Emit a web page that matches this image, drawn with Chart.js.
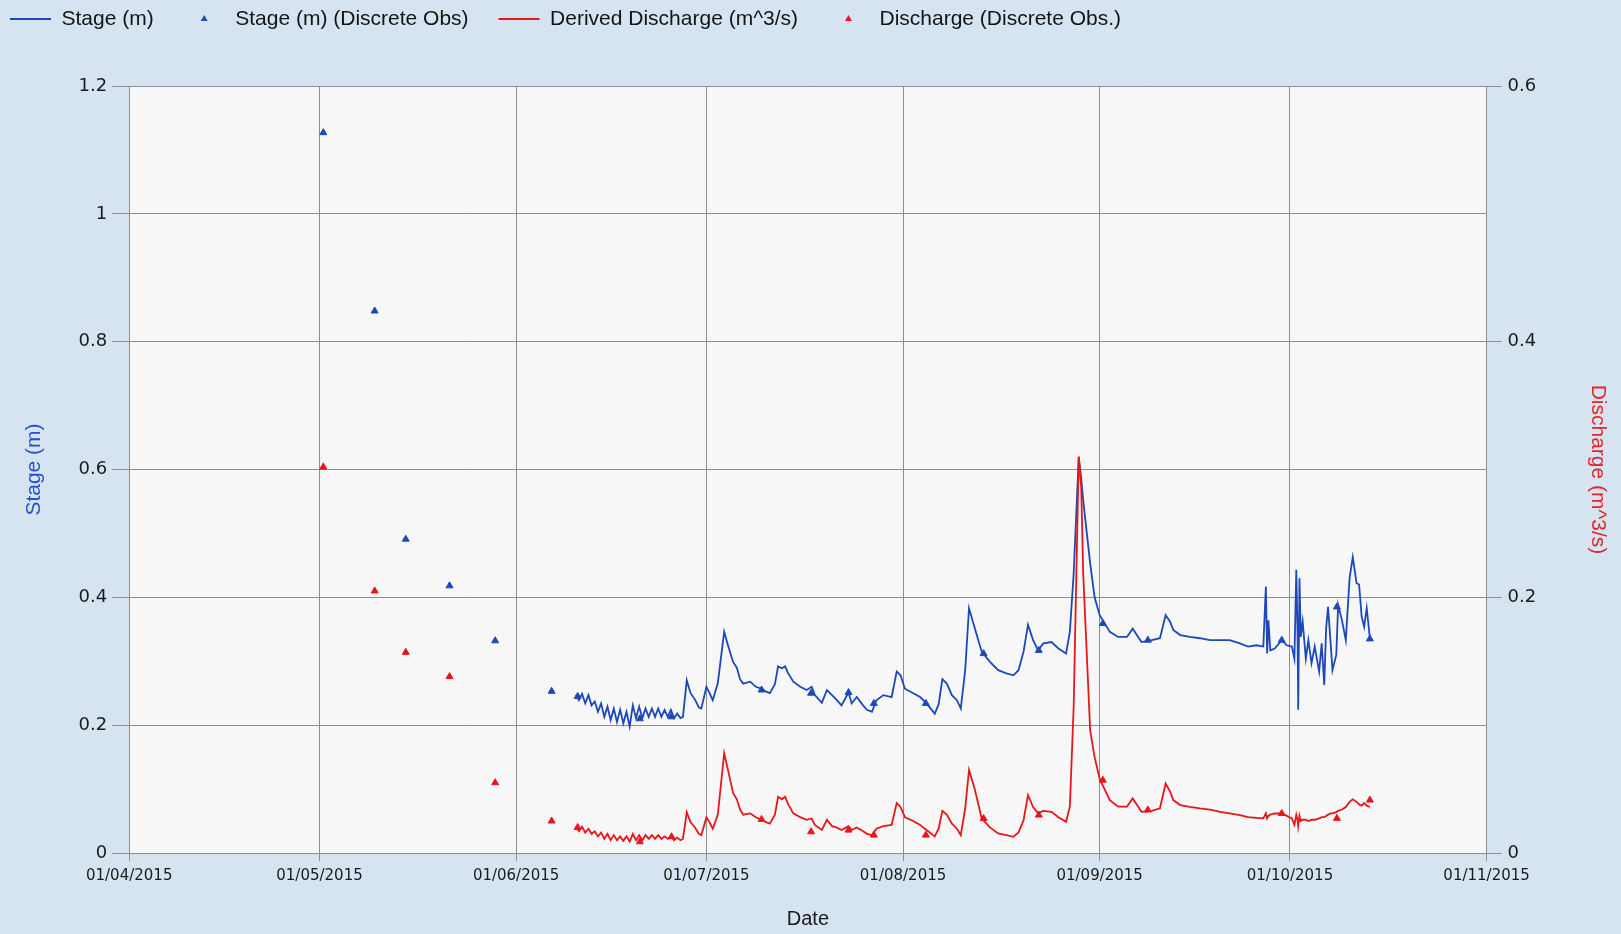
<!DOCTYPE html>
<html>
<head>
<meta charset="utf-8">
<title>Stage and discharge</title>
<script src="https://cdn.jsdelivr.net/npm/chart.js@4.4.1/dist/chart.umd.min.js"></script>
<style>
  html, body { margin: 0; padding: 0; background: #d6e4f1; }
  #wrap { width: 1621px; height: 934px; }
</style>
</head>
<body>
<div id="wrap"><canvas id="stageChart" width="1621" height="934"></canvas></div>
<script>
// x values are days counted from 01/04/2015
const monthTicks = [0, 30, 61, 91, 122, 153, 183, 214];
const monthLabels = ["01/04/2015", "01/05/2015", "01/06/2015", "01/07/2015",
                     "01/08/2015", "01/09/2015", "01/10/2015", "01/11/2015"];

// logger record
const lineDays = [
  70.4, 70.9, 71.4, 71.9, 72.4, 72.9, 73.4, 73.9, 74.4, 74.9, 75.4, 75.9, 76.4, 76.9, 77.4, 77.9,
  78.4, 78.9, 79.4, 79.9, 80.4, 80.9, 81.4, 81.9, 82.4, 82.9, 83.4, 83.9, 84.4, 84.9, 85.4, 85.9,
  86.4, 86.9, 87.3, 87.9, 88.5, 89.2, 89.8, 90.2, 91.0, 91.5, 92.0, 92.8, 93.8, 94.4, 95.2, 95.8,
  96.3, 96.8, 97.9, 98.8, 99.7, 100.5, 101.0, 101.8, 102.3, 102.9, 103.4, 103.9, 104.7, 105.8, 106.8, 107.6,
  108.1, 109.2, 110.0, 110.8, 111.5, 112.3, 113.4, 113.9, 114.7, 115.7, 116.3, 117.1, 117.8, 118.9, 120.2, 121.0,
  121.6, 122.3, 123.6, 124.7, 125.7, 127.0, 127.6, 128.2, 128.9, 129.7, 130.5, 131.1, 131.8, 132.4, 133.3, 134.4,
  135.7, 137.0, 138.3, 139.4, 140.2, 141.0, 141.7, 142.5, 143.3, 144.1, 145.4, 146.5, 147.7, 148.3, 148.9, 149.7,
  150.1, 150.4, 151.5, 152.2, 153.0, 154.6, 155.9, 157.3, 158.2, 159.6, 161.2, 162.5, 163.4, 164.1, 164.6, 165.7, 167.2, 168.8,
  170.4, 172.0, 173.5, 175.1, 176.4, 177.7, 178.8, 179.2, 179.4, 179.6, 179.9, 180.6, 181.7, 182.5, 183.3, 183.7,
  184.0, 184.2, 184.3, 184.5, 184.7, 185.0, 185.5, 185.9, 186.4, 186.9, 187.6, 188.0, 188.4, 188.7, 189.0, 189.4,
  189.7, 190.3, 190.6, 191.2, 191.8, 192.4, 192.9, 193.5, 193.9, 194.3, 194.7, 195.1, 195.6
];
const stageLine = [
  0.247, 0.239, 0.249, 0.234, 0.247, 0.231, 0.237, 0.221, 0.234, 0.213, 0.229, 0.208, 0.226, 0.205, 0.224, 0.203,
  0.221, 0.198, 0.231, 0.211, 0.229, 0.211, 0.226, 0.213, 0.226, 0.213, 0.226, 0.213, 0.224, 0.213, 0.224, 0.211,
  0.218, 0.211, 0.213, 0.270, 0.250, 0.240, 0.228, 0.226, 0.260, 0.250, 0.239, 0.266, 0.346, 0.325, 0.299, 0.290,
  0.272, 0.265, 0.268, 0.260, 0.257, 0.252, 0.250, 0.264, 0.292, 0.289, 0.292, 0.281, 0.268, 0.260, 0.255, 0.260,
  0.247, 0.235, 0.255, 0.247, 0.240, 0.231, 0.251, 0.234, 0.244, 0.231, 0.224, 0.221, 0.239, 0.247, 0.244, 0.284,
  0.278, 0.257, 0.250, 0.244, 0.234, 0.218, 0.232, 0.272, 0.265, 0.247, 0.239, 0.226, 0.286, 0.383, 0.352, 0.315,
  0.299, 0.286, 0.281, 0.278, 0.286, 0.315, 0.357, 0.333, 0.317, 0.328, 0.330, 0.320, 0.312, 0.346, 0.437, 0.620,
  0.585, 0.552, 0.453, 0.400, 0.372, 0.346, 0.338, 0.338, 0.351, 0.330, 0.333, 0.336, 0.372, 0.362, 0.349, 0.341, 0.338, 0.336,
  0.333, 0.333, 0.333, 0.328, 0.323, 0.325, 0.323, 0.417, 0.312, 0.364, 0.317, 0.320, 0.333, 0.325, 0.323, 0.304,
  0.443, 0.340, 0.224, 0.430, 0.338, 0.362, 0.304, 0.333, 0.297, 0.323, 0.284, 0.328, 0.263, 0.351, 0.385, 0.330,
  0.286, 0.310, 0.388, 0.364, 0.333, 0.430, 0.463, 0.422, 0.420, 0.370, 0.354, 0.383, 0.336
];
const dischargeLine = [
  0.0205, 0.017, 0.0205, 0.016, 0.019, 0.015, 0.017, 0.013, 0.016, 0.011, 0.015, 0.010, 0.014, 0.010, 0.013, 0.0095,
  0.013, 0.009, 0.015, 0.010, 0.014, 0.010, 0.014, 0.011, 0.014, 0.011, 0.014, 0.011, 0.013, 0.011, 0.013, 0.010,
  0.012, 0.010, 0.011, 0.032, 0.024, 0.020, 0.015, 0.014, 0.028, 0.024, 0.019, 0.030, 0.078, 0.065, 0.047, 0.042,
  0.034, 0.030, 0.031, 0.028, 0.026, 0.024, 0.023, 0.030, 0.044, 0.042, 0.044, 0.038, 0.031, 0.028, 0.026, 0.027,
  0.022, 0.018, 0.026, 0.021, 0.020, 0.018, 0.021, 0.018, 0.020, 0.017, 0.015, 0.014, 0.019, 0.021, 0.022, 0.039,
  0.036, 0.028, 0.025, 0.022, 0.018, 0.013, 0.019, 0.033, 0.030, 0.023, 0.019, 0.014, 0.035, 0.065, 0.050, 0.027,
  0.020, 0.0153, 0.014, 0.0127, 0.016, 0.0257, 0.0453, 0.036, 0.031, 0.033, 0.0322, 0.028, 0.0244, 0.0362, 0.1144, 0.310,
  0.285, 0.219, 0.096, 0.075, 0.058, 0.0414, 0.0362, 0.0362, 0.0427, 0.0322, 0.033, 0.035, 0.0544, 0.048, 0.0414, 0.0375, 0.036, 0.0349,
  0.034, 0.0322, 0.031, 0.0296, 0.028, 0.0275, 0.0271, 0.031, 0.027, 0.029, 0.030, 0.031, 0.0309, 0.029, 0.027, 0.022,
  0.030, 0.026, 0.021, 0.029, 0.025, 0.026, 0.026, 0.025, 0.026, 0.026, 0.027, 0.028, 0.028, 0.029, 0.030, 0.031,
  0.031, 0.032, 0.033, 0.034, 0.036, 0.040, 0.042, 0.040, 0.038, 0.037, 0.039, 0.037, 0.036
];

// discrete field observations
const obsDays = [30.6, 38.7, 43.6, 50.5, 57.7, 66.6, 70.7, 80.5, 85.5, 99.7, 107.5,
                 113.4, 117.4, 125.6, 134.7, 143.4, 153.5, 160.6, 181.7, 190.4, 195.6];
const obsStage = [1.127, 0.848, 0.491, 0.418, 0.332, 0.253, 0.245, 0.210, 0.213, 0.255, 0.250,
                  0.251, 0.234, 0.234, 0.312, 0.317, 0.359, 0.333, 0.333, 0.385, 0.335];
const obsDischarge = [0.302, 0.205, 0.157, 0.138, 0.055, 0.025, 0.020, 0.0088, 0.0127, 0.0263, 0.0166,
                      0.0179, 0.014, 0.014, 0.027, 0.0297, 0.057, 0.0336, 0.0309, 0.0271, 0.0414];

const BLUE = "#1c48b8";
const RED = "#e8161c";
const GRID = "#8e8e8e";
const TITLE_FONT = "'Liberation Sans', Arial, sans-serif";

function pairs(xs, ys) {
  return xs.map((x, i) => ({ x: x, y: ys[i] }));
}

// light panel behind the plot area
const panelBackground = {
  id: "panelBackground",
  beforeDraw(chart) {
    const { ctx, chartArea } = chart;
    ctx.save();
    ctx.fillStyle = "#d6e4f1";
    ctx.fillRect(0, 0, chart.width, chart.height);
    ctx.fillStyle = "#f7f7f7";
    ctx.fillRect(chartArea.left, chartArea.top, chartArea.right - chartArea.left, chartArea.bottom - chartArea.top);
    ctx.restore();
  }
};

// left aligned legend strip along the top edge
const topLegend = {
  id: "topLegend",
  afterDraw(chart) {
    const ctx = chart.ctx;
    ctx.save();
    ctx.font = "21px " + TITLE_FONT;
    ctx.textBaseline = "middle";
    let x = 10;
    const y = 19;
    chart.data.datasets.forEach(ds => {
      ctx.fillStyle = ds.borderColor;
      ctx.strokeStyle = ds.borderColor;
      if (ds.showLine === false) {
        const cx = x + 20.5;
        ctx.beginPath();
        ctx.moveTo(cx, y - 4);
        ctx.lineTo(cx + 3.5, y + 2);
        ctx.lineTo(cx - 3.5, y + 2);
        ctx.closePath();
        ctx.fill();
      } else {
        ctx.lineWidth = 2;
        ctx.beginPath();
        ctx.moveTo(x, y);
        ctx.lineTo(x + 41, y);
        ctx.stroke();
      }
      ctx.fillStyle = "#141414";
      ctx.fillText(ds.label, x + 51.5, y);
      x += 51.5 + ctx.measureText(ds.label).width + 30;
    });
    ctx.restore();
  }
};

Chart.defaults.font.family = "'DejaVu Sans', Verdana, sans-serif";
Chart.defaults.color = "#1a1a1a";

new Chart(document.getElementById("stageChart"), {
  type: "line",
  data: {
    datasets: [
      {
        label: "Stage (m)",
        data: pairs(lineDays, stageLine),
        yAxisID: "y",
        borderColor: BLUE,
        backgroundColor: BLUE,
        borderWidth: 1.8,
        pointRadius: 0,
        tension: 0,
        order: 3
      },
      {
        label: "Stage (m) (Discrete Obs)",
        data: pairs(obsDays, obsStage),
        yAxisID: "y",
        showLine: false,
        borderColor: BLUE,
        backgroundColor: BLUE,
        pointStyle: "triangle",
        pointRadius: 4,
        pointBorderWidth: 1,
        order: 1
      },
      {
        label: "Derived Discharge (m^3/s)",
        data: pairs(lineDays, dischargeLine),
        yAxisID: "y1",
        borderColor: RED,
        backgroundColor: RED,
        borderWidth: 1.8,
        pointRadius: 0,
        tension: 0,
        order: 2
      },
      {
        label: "Discharge (Discrete Obs.)",
        data: pairs(obsDays, obsDischarge),
        yAxisID: "y1",
        showLine: false,
        borderColor: RED,
        backgroundColor: RED,
        pointStyle: "triangle",
        pointRadius: 4,
        pointBorderWidth: 1,
        order: 0
      }
    ]
  },
  options: {
    responsive: false,
    animation: false,
    devicePixelRatio: 1,
    layout: { padding: { top: 86, left: 0, right: 0, bottom: 0 } },
    plugins: {
      legend: { display: false },
      tooltip: { enabled: false }
    },
    scales: {
      x: {
        type: "linear",
        position: "bottom",
        min: 0,
        max: 214,
        afterBuildTicks(scale) {
          scale.ticks = monthTicks.map(v => ({ value: v }));
        },
        afterFit(scale) { scale.height = 81; },
        ticks: {
          autoSkip: false,
          maxRotation: 0,
          padding: 6,
          font: { size: 15 },
          callback: value => monthLabels[monthTicks.indexOf(value)]
        },
        grid: { color: GRID, tickLength: 8 },
        border: { color: GRID },
        title: {
          display: true,
          text: "Date",
          color: "#1a1a1a",
          font: { family: TITLE_FONT, size: 20 },
          padding: { top: 0, bottom: 3 }
        }
      },
      y: {
        position: "left",
        min: 0,
        max: 1.2,
        ticks: {
          stepSize: 0.2,
          padding: 5,
          font: { size: 18 },
          callback: value => String(Number(value.toFixed(2)))
        },
        afterFit(scale) { scale.width = 129.2; },
        grid: { color: GRID, tickLength: 17 },
        border: { color: GRID },
        title: {
          display: true,
          text: "Stage (m)",
          color: "#2552c9",
          font: { family: TITLE_FONT, size: 21 },
          padding: { top: 21.5, bottom: 0 }
        }
      },
      y1: {
        position: "right",
        min: 0,
        max: 0.6,
        ticks: {
          stepSize: 0.2,
          padding: 6,
          font: { size: 18 },
          callback: value => String(Number(value.toFixed(2)))
        },
        afterFit(scale) { scale.width = 134.4; },
        grid: { drawOnChartArea: false, color: GRID, tickLength: 15 },
        border: { color: GRID },
        title: {
          display: true,
          text: "Discharge (m^3/s)",
          color: "#e3262a",
          font: { family: TITLE_FONT, size: 21 },
          padding: { top: 11, bottom: 0 }
        }
      }
    }
  },
  plugins: [panelBackground, topLegend]
});
</script>
</body>
</html>
